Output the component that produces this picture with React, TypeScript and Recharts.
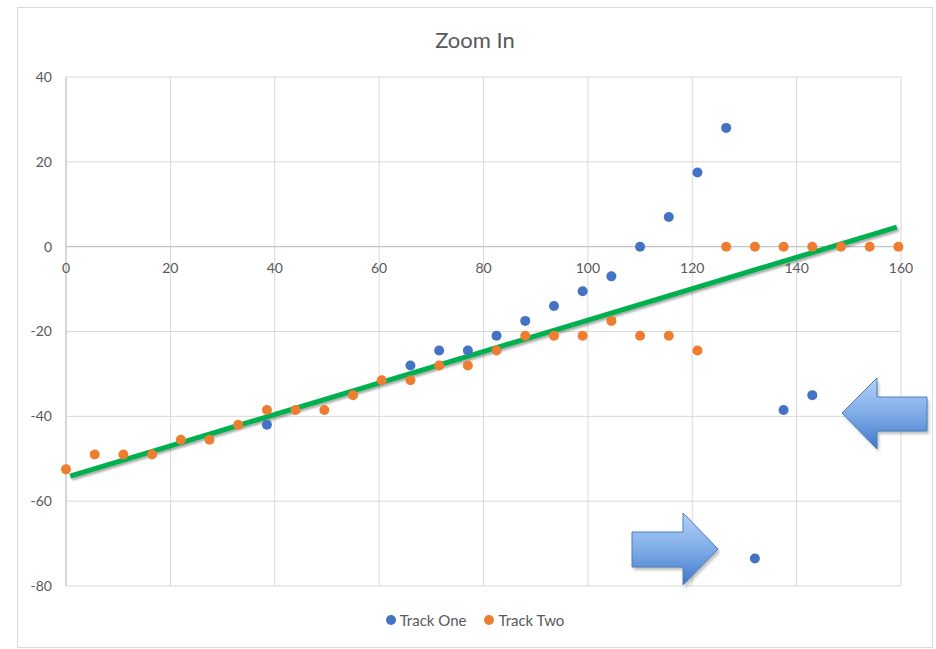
import { ScatterChart, Scatter, XAxis, YAxis, CartesianGrid, ReferenceLine } from "recharts";

// Track Two: one reading every 5.5 units
const trackTwoX = [0, 5.5, 11, 16.5, 22, 27.5, 33, 38.5, 44, 49.5, 55, 60.5, 66, 71.5, 77, 82.5, 88, 93.5, 99, 104.5, 110, 115.5, 121, 126.5, 132, 137.5, 143, 148.5, 154, 159.5];
const trackTwoY = [-52.5, -49, -49, -49, -45.5, -45.5, -42, -38.5, -38.5, -38.5, -35, -31.5, -31.5, -28, -28, -24.5, -21, -21, -21, -17.5, -21, -21, -24.5, 0, 0, 0, 0, 0, 0, 0];

// Track One only has readings from 38.5 on
const trackOneX = [38.5, 66, 71.5, 77, 82.5, 88, 93.5, 99, 104.5, 110, 115.5, 121, 126.5, 132, 137.5, 143];
const trackOneY = [-42, -28, -24.5, -24.5, -21, -17.5, -14, -10.5, -7, 0, 7, 17.5, 28, -73.5, -38.5, -35];

// linear trend endpoints
const trendX = [0.8, 159.2];
const trendY = [-54.1, 4.6];

const xTicks = [0, 20, 40, 60, 80, 100, 120, 140, 160];
const yTicks = [-80, -60, -40, -20, 0, 20, 40];

const trackOne = trackOneX.map((x, i) => ({ x, y: trackOneY[i] }));
const trackTwo = trackTwoX.map((x, i) => ({ x, y: trackTwoY[i] }));

const W = 936;
const H = 649;
const MARGIN = { top: 77, right: 35, bottom: 62, left: 16 };
const PLOT_H = H - MARGIN.top - MARGIN.bottom - 1;
const Y_MIN = -80;
const Y_MAX = 40;
const ZERO_Y = MARGIN.top + ((Y_MAX - 0) / (Y_MAX - Y_MIN)) * PLOT_H;

const FONT = "Lato, 'Open Sans', sans-serif";
const TEXT = "#595959";
const BLUE = "#4472c4";
const ORANGE = "#ed7d31";

const dot = (color: string) => (props: any) => (
  <circle cx={props.cx} cy={props.cy} r={5} fill={color} />
);

// x labels sit under the horizontal axis at y = 0
const XTick = (props: any) => (
  <text x={props.x} y={ZERO_Y + 26} textAnchor="middle" fill={TEXT} fontSize={14} fontFamily={FONT}>
    {props.payload.value}
  </text>
);

function BlockArrow({ points, id }: { points: string; id: string }) {
  return (
    <g>
      <polygon points={points} fill="rgba(0,0,0,0.25)" transform="translate(2,3)" filter="url(#arrowBlur)" />
      <polygon points={points} fill={`url(#${id})`} stroke="#4a7ebb" strokeWidth={1} />
    </g>
  );
}

export default function App() {
  return (
    <div style={{ position: "absolute", left: 0, top: 0, width: W, height: H, background: "#fff", fontFamily: FONT }}>
      <div
        style={{
          position: "absolute",
          left: 17,
          top: 7,
          width: 916,
          height: 641,
          border: "1px solid #d9d9d9",
          boxSizing: "border-box",
        }}
      />
      <div
        style={{
          position: "absolute",
          left: 0,
          width: W,
          top: 26,
          paddingLeft: 14,
          boxSizing: "border-box",
          textAlign: "center",
          fontSize: 22,
          color: TEXT,
        }}
      >
        Zoom In
      </div>
      <div style={{ position: "absolute", left: 0, top: 0 }}>
        <ScatterChart width={W} height={H} margin={MARGIN}>
          <defs>
            <filter id="lineShadow" x="-5%" y="-50%" width="110%" height="200%">
              <feDropShadow dx="1.5" dy="2" stdDeviation="1.2" floodColor="#000" floodOpacity="0.35" />
            </filter>
          </defs>
          <CartesianGrid stroke="#d9d9d9" />
          <XAxis
            type="number"
            dataKey="x"
            domain={[0, 160]}
            ticks={xTicks}
            height={1}
            axisLine={false}
            tickLine={false}
            tick={XTick}
            interval={0}
          />
          <YAxis
            type="number"
            dataKey="y"
            domain={[Y_MIN, Y_MAX]}
            ticks={yTicks}
            width={50}
            axisLine={{ stroke: "#bfbfbf" }}
            tickLine={false}
            tickSize={6}
            tickMargin={8}
            interval={0}
            tick={{ fill: TEXT, fontSize: 14, fontFamily: FONT }}
          />
          <ReferenceLine y={0} stroke="#bfbfbf" />
          <Scatter name="Track One" data={trackOne} fill={BLUE} shape={dot(BLUE)} isAnimationActive={false} />
          <Scatter name="Track Two" data={trackTwo} fill={ORANGE} shape={dot(ORANGE)} isAnimationActive={false} />
          <ReferenceLine
            segment={[
              { x: trendX[0], y: trendY[0] },
              { x: trendX[1], y: trendY[1] },
            ]}
            stroke="#00b050"
            strokeWidth={5}
            filter="url(#lineShadow)"
            ifOverflow="visible"
          />
        </ScatterChart>
      </div>
      <svg width={W} height={H} style={{ position: "absolute", left: 0, top: 0, pointerEvents: "none" }}>
        <defs>
          <linearGradient id="arrowLeft" x1="0" y1="0" x2="0" y2="1">
            <stop offset="0%" stopColor="#b3d1f7" />
            <stop offset="55%" stopColor="#7aa8e6" />
            <stop offset="100%" stopColor="#3f76c8" />
          </linearGradient>
          <linearGradient id="arrowRight" x1="0" y1="0" x2="0" y2="1">
            <stop offset="0%" stopColor="#b3d1f7" />
            <stop offset="55%" stopColor="#7aa8e6" />
            <stop offset="100%" stopColor="#3f76c8" />
          </linearGradient>
          <filter id="arrowBlur" x="-20%" y="-20%" width="140%" height="140%">
            <feGaussianBlur stdDeviation="1.5" />
          </filter>
        </defs>
        <BlockArrow id="arrowLeft" points="842,413 877,378 877,397 927,397 927,431 877,431 877,449" />
        <BlockArrow id="arrowRight" points="718,549 683,513 683,532 632,532 632,567 683,567 683,585" />
      </svg>
      <div
        style={{
          position: "absolute",
          left: 0,
          width: W,
          top: 611,
          paddingLeft: 14,
          boxSizing: "border-box",
          display: "flex",
          justifyContent: "center",
          gap: 18,
          fontSize: 15,
          color: TEXT,
        }}
      >
        {[
          ["Track One", BLUE],
          ["Track Two", ORANGE],
        ].map(([label, color]) => (
          <span key={label} style={{ display: "flex", alignItems: "center", gap: 4 }}>
            <span style={{ width: 10, height: 10, borderRadius: 5, background: color, display: "inline-block" }} />
            {label}
          </span>
        ))}
      </div>
    </div>
  );
}
